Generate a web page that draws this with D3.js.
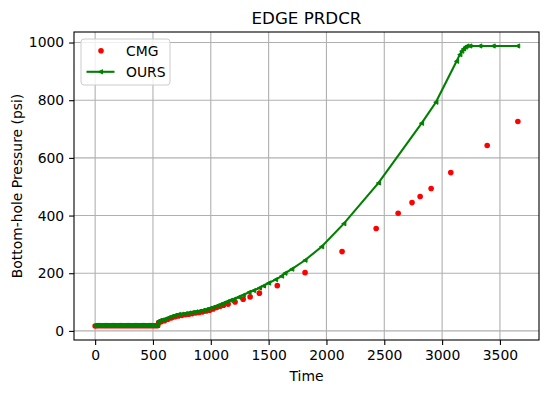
<!DOCTYPE html>
<html>
<head>
<meta charset="utf-8">
<script src="https://cdn.jsdelivr.net/npm/d3@7"></script>
<style>
  body { margin: 0; background: #fff; }
  svg { font-family: "DejaVu Sans", sans-serif; }
</style>
</head>
<body>
<div id="chart"></div>
<script>
// CMG reference run (days, psi)
var cmgTime = [0, 15, 30, 45, 60, 75, 90, 105, 120, 135, 150, 165, 180, 195, 210, 225, 240, 255, 270, 285,
  300, 315, 330, 345, 360, 375, 390, 405, 420, 435, 450, 465, 480, 495, 510, 525, 540,
  550, 570, 600, 630, 660, 690, 720, 750, 780, 810, 840, 870, 900, 930, 960, 990, 1020, 1050, 1080,
  1110, 1150, 1210, 1280, 1340, 1420, 1575, 1815, 2135, 2430, 2620, 2740, 2810, 2905, 3075, 3390, 3655];
var cmgBhp = [17, 18, 18, 18, 18, 18, 18, 18, 18, 18, 18, 18, 18, 18, 18, 18, 18, 18, 18, 18,
  18, 18, 18, 18, 18, 18, 18, 18, 18, 18, 18, 18, 18, 18, 18, 18, 18,
  28, 32, 35, 40, 45, 49, 52, 54, 56, 58, 60, 62, 64, 66, 69, 72, 76, 81, 85,
  89, 93, 100, 110, 118, 131, 157, 202, 275, 355, 408, 445, 466, 494, 549, 643, 726];

// our simulator (days, psi)
var oursTime = [0, 10, 20, 30, 40, 50, 60, 70, 80, 90, 100, 110, 120, 130, 140, 150, 160, 170, 180, 190,
  200, 210, 220, 230, 240, 250, 260, 270, 280, 290, 300, 310, 320, 330, 340, 350, 360, 370, 380, 390,
  400, 410, 420, 430, 440, 450, 460, 470, 480, 490, 500, 510, 520, 530, 540,
  545, 560, 580, 600, 630, 660, 690, 720, 750, 780, 810, 840, 870, 900, 930, 960, 990, 1020, 1050, 1080,
  1110, 1140, 1170, 1200, 1240, 1280, 1330, 1370, 1420, 1455, 1500, 1560, 1612, 1641, 1700, 1814, 1958,
  2150, 2450, 2822, 2946, 3125, 3153, 3170, 3185, 3200, 3215, 3240, 3326, 3441, 3653];
var oursBhp = [19, 19, 19, 19, 19, 19, 19, 19, 19, 19, 19, 19, 19, 19, 19, 19, 19, 19, 19, 19,
  19, 19, 19, 19, 19, 19, 19, 19, 19, 19, 19, 19, 19, 19, 19, 19, 19, 19, 19, 19,
  19, 19, 19, 19, 19, 19, 19, 19, 19, 19, 19, 19, 19, 19, 19,
  33, 36, 38, 40, 45, 50, 54, 57, 58, 60, 62, 64, 66, 68, 71, 74, 78, 82, 86, 91,
  96, 101, 106, 110, 117, 124, 134, 140, 149, 156, 166, 178, 190, 200, 214, 245, 292,
  372, 513, 720, 793, 935, 958, 970, 978, 984, 988, 988, 988, 988, 988];

var xTicks = [0, 500, 1000, 1500, 2000, 2500, 3000, 3500];
var yTicks = [0, 200, 400, 600, 800, 1000];

var cmg = cmgTime.map((t, i) => ({t: t, p: cmgBhp[i]}));
var ours = oursTime.map((t, i) => ({t: t, p: oursBhp[i]}));

var width = 549, height = 393;
var margin = ({top: 32, right: 10, bottom: 53, left: 74});
var visWidth = width - margin.left - margin.right;
var visHeight = height - margin.top - margin.bottom;

// matplotlib style 5% padding on data extent
function padded(ext) {
  var d = (ext[1] - ext[0]) * 0.05;
  return [ext[0] - d, ext[1] + d];
}
var allT = cmgTime.concat(oursTime), allP = cmgBhp.concat(oursBhp);
var x = d3.scaleLinear().domain(padded(d3.extent(allT))).range([0, visWidth]);
var y = d3.scaleLinear().domain(padded(d3.extent(allP))).range([visHeight, 0]);

var fs = 13.9;
var dotR = 2.8;

const svg = d3.select('#chart').append('svg')
  .attr('width', width).attr('height', height);
const g = svg.append('g').attr('transform', `translate(${margin.left},${margin.top})`);

// grid
g.append('g').selectAll('line').data(xTicks).join('line')
  .attr('x1', d => x(d)).attr('x2', d => x(d))
  .attr('y1', 0).attr('y2', visHeight)
  .attr('stroke', '#b0b0b0').attr('stroke-width', 1.1);
g.append('g').selectAll('line').data(yTicks).join('line')
  .attr('y1', d => y(d)).attr('y2', d => y(d))
  .attr('x1', 0).attr('x2', visWidth)
  .attr('stroke', '#b0b0b0').attr('stroke-width', 1.1);

// axes
const xAxis = g.append('g').attr('transform', `translate(0,${visHeight})`)
  .call(d3.axisBottom(x).tickValues(xTicks).tickFormat(d3.format('d')).tickSize(4.9).tickPadding(4.9).tickSizeOuter(0));
const yAxis = g.append('g')
  .call(d3.axisLeft(y).tickValues(yTicks).tickFormat(d3.format('d')).tickSize(4.9).tickPadding(4.9).tickSizeOuter(0));
[xAxis, yAxis].forEach(a => {
  a.select('.domain').remove();
  a.selectAll('line').attr('stroke', '#000').attr('stroke-width', 1.1);
  a.selectAll('text').attr('font-size', fs).attr('fill', '#000')
    .attr('font-family', '"DejaVu Sans", sans-serif');
});

// CMG dots
g.append('g').selectAll('circle').data(cmg).join('circle')
  .attr('cx', d => x(d.t)).attr('cy', d => y(d.p))
  .attr('r', dotR).attr('fill', '#ff0000');

// OURS line + left triangles
function triLeft(cx, cy, r) {
  return `M${cx - r},${cy}L${cx + r},${cy - r}L${cx + r},${cy + r}Z`;
}
g.append('path').datum(ours)
  .attr('d', d3.line().x(d => x(d.t)).y(d => y(d.p)))
  .attr('fill', 'none').attr('stroke', '#008000').attr('stroke-width', 2.1);
g.append('g').selectAll('path').data(ours).join('path')
  .attr('d', d => triLeft(x(d.t), y(d.p), 2.1))
  .attr('fill', '#008000').attr('stroke', '#008000').attr('stroke-width', 1);

// frame
g.append('rect').attr('width', visWidth).attr('height', visHeight)
  .attr('fill', 'none').attr('stroke', '#000').attr('stroke-width', 1.1);

// title and labels
svg.append('text').attr('x', margin.left + visWidth / 2).attr('y', 24)
  .attr('text-anchor', 'middle').attr('font-size', 16.7).text('EDGE PRDCR');
svg.append('text').attr('x', margin.left + visWidth / 2).attr('y', 381)
  .attr('text-anchor', 'middle').attr('font-size', fs).text('Time');
svg.append('text')
  .attr('transform', `translate(22,${margin.top + visHeight / 2}) rotate(-90)`)
  .attr('text-anchor', 'middle').attr('font-size', fs).text('Bottom-hole Pressure (psi)');

// legend
const lg = g.append('g').attr('transform', 'translate(7,7)');
lg.append('rect').attr('width', 89).attr('height', 46).attr('rx', 3)
  .attr('fill', '#fff').attr('fill-opacity', 0.8).attr('stroke', '#cccccc').attr('stroke-width', 1);
lg.append('circle').attr('cx', 20).attr('cy', 11.8).attr('r', dotR).attr('fill', '#ff0000');
lg.append('text').attr('x', 45).attr('y', 16.8).attr('font-size', fs).text('CMG');
lg.append('line').attr('x1', 5.5).attr('x2', 33.5).attr('y1', 32.8).attr('y2', 32.8)
  .attr('stroke', '#008000').attr('stroke-width', 2.1);
lg.append('path').attr('d', triLeft(19.5, 32.8, 2.1)).attr('fill', '#008000').attr('stroke', '#008000');
lg.append('text').attr('x', 45).attr('y', 37.8).attr('font-size', fs).text('OURS');
</script>
</body>
</html>
